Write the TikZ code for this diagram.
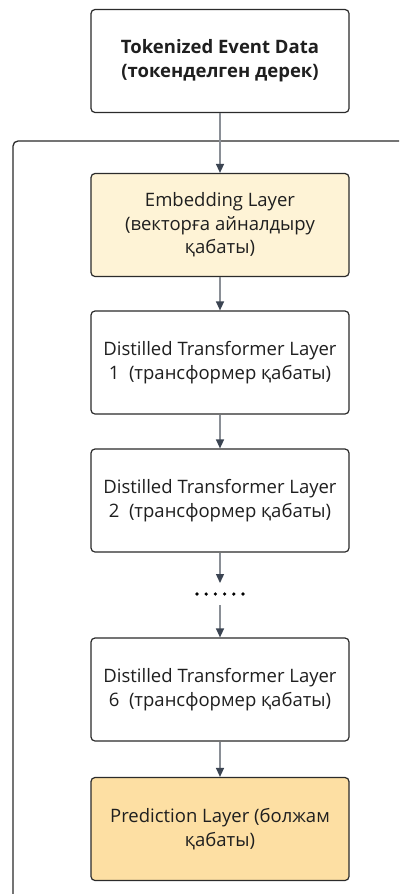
\documentclass[tikz,border=0pt]{standalone}
\usepackage{fontspec}
\setmainfont{Open Sans}
\usetikzlibrary{arrows.meta}
\definecolor{edgec}{HTML}{2B2B2B}
\definecolor{arrline}{HTML}{8A8F96}
\definecolor{arrhead}{HTML}{3B4452}
\definecolor{embfill}{HTML}{FEF3D6}
\definecolor{predfill}{HTML}{FDDFA3}
\tikzset{
  layerbox/.style={draw=edgec, line width=1.2pt, rounded corners=4pt, minimum width=258pt, minimum height=103pt, align=center, font=\fontsize{18.5}{23.5}\selectfont, text=black!88, inner sep=0pt},
  flowarrow/.style={draw=arrline, line width=1.3pt, -{Triangle[length=9pt,width=8pt,color=arrhead]}},
}
\begin{document}
\begin{tikzpicture}[x=1pt,y=-1pt]
\useasboundingbox (0,0) rectangle (399,894);
\fill[white] (0,0) rectangle (399,894);
\begin{scope}
\clip (0,0) rectangle (399,894);
\draw[edgec, line width=1.3pt, rounded corners=5pt] (13,920) -- (13,141) -- (420,141);
\end{scope}
\node[layerbox, font=\bfseries\fontsize{18.5}{24}\selectfont] (tok) at (220,61) {Tokenized Event Data\\(токенделген дерек)};
\node[layerbox, fill=embfill] (emb) at (220,225) {Embedding Layer\\(векторға айналдыру\\қабаты)};
\node[layerbox] (d1) at (220,362.5) {Distilled Transformer Layer\\1~ (трансформер қабаты)};
\node[layerbox] (d2) at (220,500.5) {Distilled Transformer Layer\\2~ (трансформер қабаты)};
\coordinate (dots) at (220,594);
\foreach \i in {0,...,5} \fill[black] ([xshift={(\i-2.5)*9.2pt}]dots) circle (1.8pt);
\node[layerbox] (d6) at (220,689.5) {Distilled Transformer Layer\\6~ (трансформер қабаты)};
\node[layerbox, fill=predfill] (pred) at (220,829) {Prediction Layer (болжам\\қабаты)};
\draw[flowarrow] (tok) -- (emb);
\draw[flowarrow] (emb) -- (d1);
\draw[flowarrow] (d1) -- (d2);
\draw[flowarrow] (d2.south) -- ([yshift=11pt]dots);
\draw[flowarrow] ([yshift=-11pt]dots) -- (d6.north);
\draw[flowarrow] (d6) -- (pred);
\end{tikzpicture}
\end{document}
